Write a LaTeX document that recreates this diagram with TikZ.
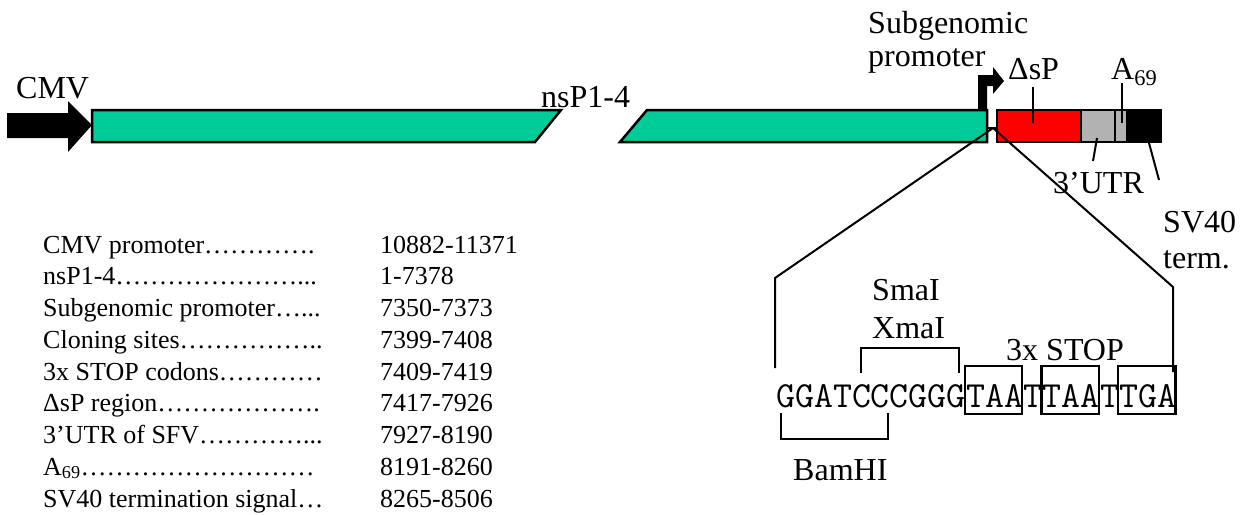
\documentclass[tikz,border=0pt]{standalone}
\usepackage{fontspec}
\setmainfont{Liberation Serif}
\usetikzlibrary{calc}
\definecolor{nsgreen}{RGB}{0,204,153}
\definecolor{utrgray}{RGB}{178,178,178}
\definecolor{dspred}{RGB}{255,0,0}
\begin{document}
\begin{tikzpicture}[x=1pt,y=-1pt,
  lab/.style={inner sep=0pt,anchor=base west,font=\fontsize{32}{36}\selectfont},
  tab/.style={inner sep=0pt,anchor=base west,font=\fontsize{26}{30}\selectfont},
  seqtxt/.style={inner sep=0pt,anchor=base west,font=\fontsize{36.8}{40}\selectfont\ttfamily},
  outl/.style={draw=black,line width=2.5pt,line join=miter},
  conn/.style={draw=black,line width=2pt},
  brk/.style={draw=black,line width=2.5pt},
  stopbox/.style={draw=black,line width=2.5pt}]
\useasboundingbox (0,0) rectangle (1249,514);

% ---------- map ----------
% CMV arrow
\fill[black] (7,113) -- (68,113) -- (68,101) -- (92,125) -- (68,152) -- (68,138) -- (7,138) -- cycle;
\node[lab] (cmv) at (16,98) {CMV};

% nsP1-4 bars
\filldraw[outl,fill=nsgreen] (92,110) -- (561,110) -- (535,142) -- (92,142) -- cycle;
\filldraw[outl,fill=nsgreen] (647,110) -- (987,110) -- (987,142) -- (620,142) -- cycle;
\node[lab] (nsp) at (541,107) {nsP1-4};

% subgenomic promoter bent arrow
\fill[black] (978,110) -- (978,75) -- (993,75) -- (993,67) -- (1004,81) -- (993,94) -- (993,86) -- (987,86) -- (987,110) -- cycle;
\node[lab] (sg1) at (868,33) {Subgenomic};
\node[lab] (sg2) at (868,66) {promoter};

% gap backbone
\coordinate (gapL) at (987,128);
\coordinate (gapR) at (997,128);
\coordinate (gapC) at (993,128);
\draw[conn] (gapL) -- (gapR);

% cassette boxes
\filldraw[outl,fill=dspred] (997,110) rectangle (1081,142);
\filldraw[outl,fill=utrgray] (1081,110) rectangle (1115,142);
\filldraw[outl,fill=utrgray] (1115,110) rectangle (1127,142);
\filldraw[outl,fill=black] (1127,110) rectangle (1161,142);

% labels on cassette
\node[lab] (dsp) at (1008,79) {ΔsP};
\node[lab] (a69) at (1111,79) {A\textsubscript{69}};
\node[lab] (utr) at (1053,193) {3’UTR};
\node[lab] (sv1) at (1163,232) {SV40};
\node[lab] (sv2) at (1163,268) {term.};

\coordinate (dspT) at (1033,87);  \coordinate (dspB) at (1033,123);
\coordinate (a69T) at (1122,83);  \coordinate (a69B) at (1122,123);
\coordinate (utrT) at (1097,138); \coordinate (utrB) at (1093,161);
\coordinate (svT) at (1149,143);  \coordinate (svB) at (1159,180);
\draw[conn] (dspT) -- (dspB);
\draw[conn] (a69T) -- (a69B);
\draw[conn] (utrT) -- (utrB);
\draw[conn] (svT) -- (svB);

% ---------- sequence ----------
\node[seqtxt] (s1) at (776,407) {GGATCCCGGG};
\node[seqtxt] (b1) at (s1.base east) {TAA};
\node[seqtxt] (t1) at (b1.base east) {T};
\node[seqtxt] (b2) at (t1.base east) {TAA};
\node[seqtxt] (t2) at (b2.base east) {T};
\node[seqtxt] (b3) at (t2.base east) {TGA};

\foreach \b in {b1,b2,b3}{
  \draw[stopbox] ($(\b.base west)+(-1,-41)$) rectangle ($(\b.base east)+(-1,7)$);
}

% zoom lines
\coordinate (zl1) at (775,278); \coordinate (zl2) at (775,368);
\coordinate (zr1) at (1173,287); \coordinate (zr2) at (1173,372);
\draw[conn,line join=miter] (gapC) -- (zl1) -- (zl2);
\draw[conn,line join=miter] (gapC) -- (zr1) -- (zr2);

% brackets and enzyme labels
\draw[brk] (781,413) -- (781,439) -- (888,439) -- (888,413);
\draw[brk] (861,373) -- (861,348) -- (959,348) -- (959,373);
\node[lab] (bam) at (793,480) {BamHI};
\node[lab] (sma) at (872,300) {SmaI};
\node[lab] (xma) at (872,338) {XmaI};
\node[lab] (stp) at (1006,360) {3x STOP};

% ---------- table ----------
\foreach \i/\l/\r in {
  0/{CMV promoter………….}/{10882-11371},
  1/{nsP1-4…………………...}/{1-7378},
  2/{Subgenomic promoter…...}/{7350-7373},
  3/{Cloning sites……………..}/{7399-7408},
  4/{3x STOP codons…………}/{7409-7419},
  5/{ΔsP region……………….}/{7417-7926},
  6/{3’UTR of SFV…………...}/{7927-8190},
  7/{A\textsubscript{69}………………………}/{8191-8260},
  8/{SV40 termination signal…}/{8265-8506}}{
  \node[tab] (tl\i) at (43,253+31.75*\i) {\l};
  \node[tab] (tr\i) at (380,253+31.75*\i) {\r};
}
\end{tikzpicture}
\end{document}
